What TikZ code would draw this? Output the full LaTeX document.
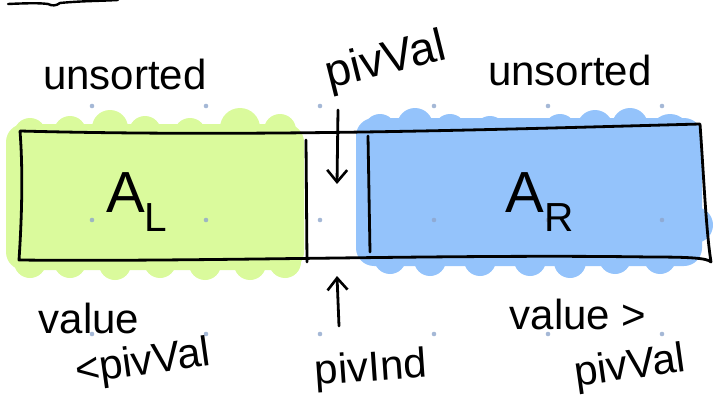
\documentclass[tikz,border=0pt]{standalone}
\usepackage{fontspec}
\setmainfont{Liberation Sans}
\usetikzlibrary{arrows.meta}
\definecolor{greenfill}{HTML}{DAFA9C}
\definecolor{bluefill}{HTML}{94C3FB}
\definecolor{dotcol}{HTML}{8EA6CC}
\tikzset{
  ink/.style={line width=2.8pt, line cap=round, line join=round, black},
  hand/.style={font=\fontsize{42}{44}\selectfont, inner sep=0pt},
  arr/.style={ink, -{Straight Barb[length=12pt,width=20pt,line width=2.6pt]}},
  griddot/.style={fill=dotcol, opacity=0.8, draw=none}
}
\begin{document}
\begin{tikzpicture}[x=1pt,y=-1pt]
\useasboundingbox (0,0) rectangle (713,415);
% green blob
\begin{scope}[fill=greenfill]
\fill[rounded corners=18pt] (6,124) rectangle (304,270);
\foreach \x/\y/\r in {30/134/16, 70/132/16, 110/128/18, 145/132/16, 190/134/16, 240/128/20, 280/130/16,
                      30/262/16, 70/262/16, 115/264/16, 160/262/16, 205/264/16, 250/264/16, 285/262/16}
  \fill (\x,\y) circle (\r);
\end{scope}
% blue blob
\begin{scope}[fill=bluefill]
\fill[rounded corners=18pt] (356,118) rectangle (702,266);
\foreach \x/\y/\r in {380/130/16, 415/126/18, 450/130/16, 490/132/16, 560/130/16, 595/128/18, 630/126/18, 670/134/20,
                      390/258/16, 430/260/16, 480/260/16, 530/260/16, 570/262/16, 615/258/16, 660/258/16, 695/225/18}
  \fill (\x,\y) circle (\r);
\end{scope}
% grid dots
\foreach \x in {92,206,320,434,548,662}
  \foreach \y in {106,220,334}
    \fill[griddot] (\x,\y) circle (2.3pt);
% outline
\coordinate (tl) at (20,131);
\coordinate (tr) at (700,124);
\coordinate (br) at (711,262);
\coordinate (bl) at (19,260);
\draw[ink] (tl) .. controls (250,137) and (480,130) .. (tr)
  .. controls (704,180) and (706,230) .. (br)
  .. controls (707,258) and (690,257) .. (650,257)
  .. controls (450,254) and (200,262) .. (bl)
  .. controls (22,215) and (23,170) .. (tl);
\draw[ink] (306,140) -- (307,262);
\draw[ink] (368,136) -- (370,252);
% scribble at top
\draw[line width=2.4pt, line cap=round] (8,4) .. controls (30,3) and (40,3) .. (48,4) .. controls (52,6) and (56,6) .. (60,3) .. controls (80,1) and (100,1) .. (118,0);
% labels
\node[hand] (uns1) at (125,74) {unsorted};
\node[hand] (uns2) at (570,70) {unsorted};
\node[hand, font=\fontsize{46}{48}\selectfont, rotate=14] (pv) at (386,62) {pivVal};
\node[hand, font=\fontsize{58}{60}\selectfont, anchor=base] (al) at (137,212) {A\textsubscript{L}};
\node[hand, font=\fontsize{58}{60}\selectfont, anchor=base] (ar) at (540,212) {A\textsubscript{R}};
\node[hand] (val1) at (89,318) {value};
\node[hand, rotate=8] (lt) at (143,364) {<pivVal};
\node[hand, rotate=4] (pind) at (371,370) {pivInd};
\node[hand] (val2) at (578,314) {value >};
\node[hand, rotate=8] (pv2) at (630,368) {pivVal};
% arrows
\coordinate (pvfoot) at (338,110);
\coordinate (downend) at (337,184);
\coordinate (pindtop) at (339,326);
\coordinate (upend) at (337,276);
\draw[arr] (pvfoot) -- (downend);
\draw[arr] (pindtop) -- (upend);
\end{tikzpicture}
\end{document}
